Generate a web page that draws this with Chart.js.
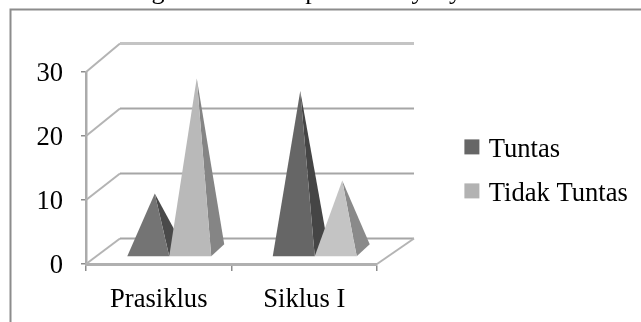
<!DOCTYPE html>
<html>
<head>
<meta charset="utf-8">
<script src="https://cdn.jsdelivr.net/npm/chart.js@4"></script>
<style>
  html, body { margin: 0; padding: 0; background: #fff; overflow: hidden; }
  #wrap { width: 641px; height: 322px; }
</style>
</head>
<body>
<div id="wrap"><canvas id="myChart" width="641" height="322"></canvas></div>
<script>
const categories = ["Prasiklus", "Siklus I"];
const tuntas = [9, 25];
const tidakTuntas = [27, 11];
const yTicks = [0, 10, 20, 30];
const captionText = "Grafik Peningkatan Ketrampilan Menyanyi dan Sekolah";

const serif = "'Liberation Serif', 'Times New Roman', serif";
const labelSize = 26.6;
const lineGrey = "#a6a6a6";

// depth of the box the pyramids stand in
const depth = { dx: 34, dy: -25.5, rise: 1.016, extra: 3 };
// where a pyramid sits inside that box and how deep its base is
const pyramid = { dx: 10.5, dy: -7, depthX: 13, depthY: -12 };

function line(ctx, pts, color, width) {
  ctx.beginPath();
  ctx.moveTo(pts[0][0], pts[0][1]);
  for (let i = 1; i < pts.length; i++) ctx.lineTo(pts[i][0], pts[i][1]);
  ctx.strokeStyle = color;
  ctx.lineWidth = width;
  ctx.stroke();
}

function face(ctx, pts, color) {
  ctx.beginPath();
  ctx.moveTo(pts[0][0], pts[0][1]);
  for (let i = 1; i < pts.length; i++) ctx.lineTo(pts[i][0], pts[i][1]);
  ctx.closePath();
  ctx.fillStyle = color;
  ctx.fill();
}

// frame and the caption line cut off above it
const framePlugin = {
  id: "frame",
  beforeInit(chart) {
    chart.ctx.fontKerning = "none";
  },
  beforeDraw(chart) {
    const ctx = chart.ctx;
    ctx.save();
    ctx.fillStyle = "#fff";
    ctx.fillRect(0, 0, chart.width, chart.height);
    ctx.fillStyle = "#000";
    ctx.font = "26px " + serif;
    ctx.textBaseline = "alphabetic";
    ctx.fillText(captionText, 18, -1);
    line(ctx, [[10.5, chart.height], [10.5, 9.5], [chart.width, 9.5]], "#8c8c8c", 2);
    ctx.restore();
  },
};

// side wall, back wall and floor
const wallsPlugin = {
  id: "walls",
  beforeDatasetsDraw(chart) {
    const ctx = chart.ctx;
    const yScale = chart.scales.y;
    const area = chart.chartArea;
    const zero = yScale.getPixelForValue(0);
    const backLeft = area.left + depth.dx;
    const backRight = area.right + depth.dx + depth.extra;
    ctx.save();
    yTicks.forEach(function (tick) {
      const y = yScale.getPixelForValue(tick);
      const backY = zero + depth.dy - (zero - y) * depth.rise;
      const isTop = tick === yTicks[yTicks.length - 1];
      line(ctx, [[area.left, y], [backLeft, backY]], "#b4b4b4", 2);
      line(ctx, [[backLeft, backY], [backRight, backY]], isTop ? "#c4c4c4" : lineGrey, isTop ? 3 : 2);
    });
    line(ctx, [[area.right, zero], [backRight, zero + depth.dy]], "#b4b4b4", 2);
    ctx.restore();
  },
};

// bars are replaced by pyramids built on the bar elements
const pyramidPlugin = {
  id: "pyramids",
  beforeDatasetDraw() {
    return false;
  },
  afterDatasetsDraw(chart) {
    const ctx = chart.ctx;
    ctx.save();
    chart.data.datasets.forEach(function (ds, i) {
      chart.getDatasetMeta(i).data.forEach(function (bar, j) {
        const left = bar.x - bar.width / 2 + pyramid.dx;
        const right = bar.x + bar.width / 2 + pyramid.dx;
        const base = bar.base + pyramid.dy;
        const apex = [
          (left + right) / 2 + pyramid.depthX / 2,
          bar.y + pyramid.dy + pyramid.depthY / 2,
        ];
        const backRight = [right + pyramid.depthX, base + pyramid.depthY];
        face(ctx, [[right, base], backRight, apex], ds.sideColors[j]);
        face(ctx, [[left, base], [right, base], apex], ds.frontColors[j]);
      });
    });
    ctx.restore();
  },
};

// legend sits apart from the plot, so its box is sized and moved by hand;
// the swatches sit a little above the text centre and are painted here too
const legendPlugin = {
  id: "legendPlace",
  beforeLayout(chart) {
    const legend = chart.legend;
    if (!legend.patched) {
      const fit = legend.fit;
      legend.fit = function () {
        fit.call(this);
        this.width = 264;
      };
      legend.patched = true;
    }
  },
  afterLayout(chart) {
    const legend = chart.legend;
    legend.left = 451;
    legend.right = 641;
    legend.top = 119.5;
    legend.bottom = 322;
  },
  afterDraw(chart) {
    const ctx = chart.ctx;
    ctx.save();
    chart.legend.legendHitBoxes.forEach(function (hit, i) {
      ctx.fillStyle = chart.data.datasets[i].backgroundColor;
      ctx.fillRect(hit.left - 4, hit.top + 2.5, 15, 15);
    });
    ctx.restore();
  },
};

new Chart(document.getElementById("myChart"), {
  type: "bar",
  data: {
    labels: categories,
    datasets: [
      {
        label: "Tuntas",
        data: tuntas,
        backgroundColor: "#666666",
        frontColors: ["#747474", "#666666"],
        sideColors: ["#4a4a4a", "#454545"],
      },
      {
        label: "Tidak Tuntas",
        data: tidakTuntas,
        backgroundColor: "#b2b2b2",
        frontColors: ["#b9b9b9", "#c4c4c4"],
        sideColors: ["#858585", "#8a8a8a"],
      },
    ],
  },
  plugins: [framePlugin, wallsPlugin, pyramidPlugin, legendPlugin],
  options: {
    responsive: false,
    animation: false,
    layout: { padding: { top: 72, left: 0, right: 0, bottom: 0 } },
    datasets: { bar: { barPercentage: 1, categoryPercentage: 0.577 } },
    scales: {
      x: {
        afterFit(scale) {
          scale.height = 58;
        },
        grid: { drawOnChartArea: false, color: "#8c8c8c", lineWidth: 1.5, tickLength: 7 },
        border: { color: "#b0b0b0", width: 3 },
        ticks: {
          color: "#000",
          padding: 13,
          maxRotation: 0,
          font: { family: serif, size: labelSize },
        },
      },
      y: {
        min: 0,
        max: 30,
        afterFit(scale) {
          scale.width = 86;
        },
        afterBuildTicks(scale) {
          scale.ticks = yTicks.map((v) => ({ value: v }));
        },
        grid: { drawOnChartArea: false, color: "#8c8c8c", lineWidth: 1.5, tickLength: 5 },
        border: { color: "#ababab", width: 2.5 },
        ticks: {
          color: "#000",
          padding: 18,
          labelOffset: 2.5,
          font: { family: serif, size: labelSize },
        },
      },
    },
    plugins: {
      tooltip: { enabled: false },
      legend: {
        position: "right",
        align: "start",
        labels: {
          color: "#000",
          font: { family: serif, size: labelSize },
          boxWidth: 7,
          boxHeight: 7,
          padding: 17.4,
          generateLabels(chart) {
            return Chart.defaults.plugins.legend.labels.generateLabels(chart).map(function (item) {
              item.fillStyle = "transparent";
              item.lineWidth = 0;
              return item;
            });
          },
        },
      },
    },
  },
});
</script>
</body>
</html>
